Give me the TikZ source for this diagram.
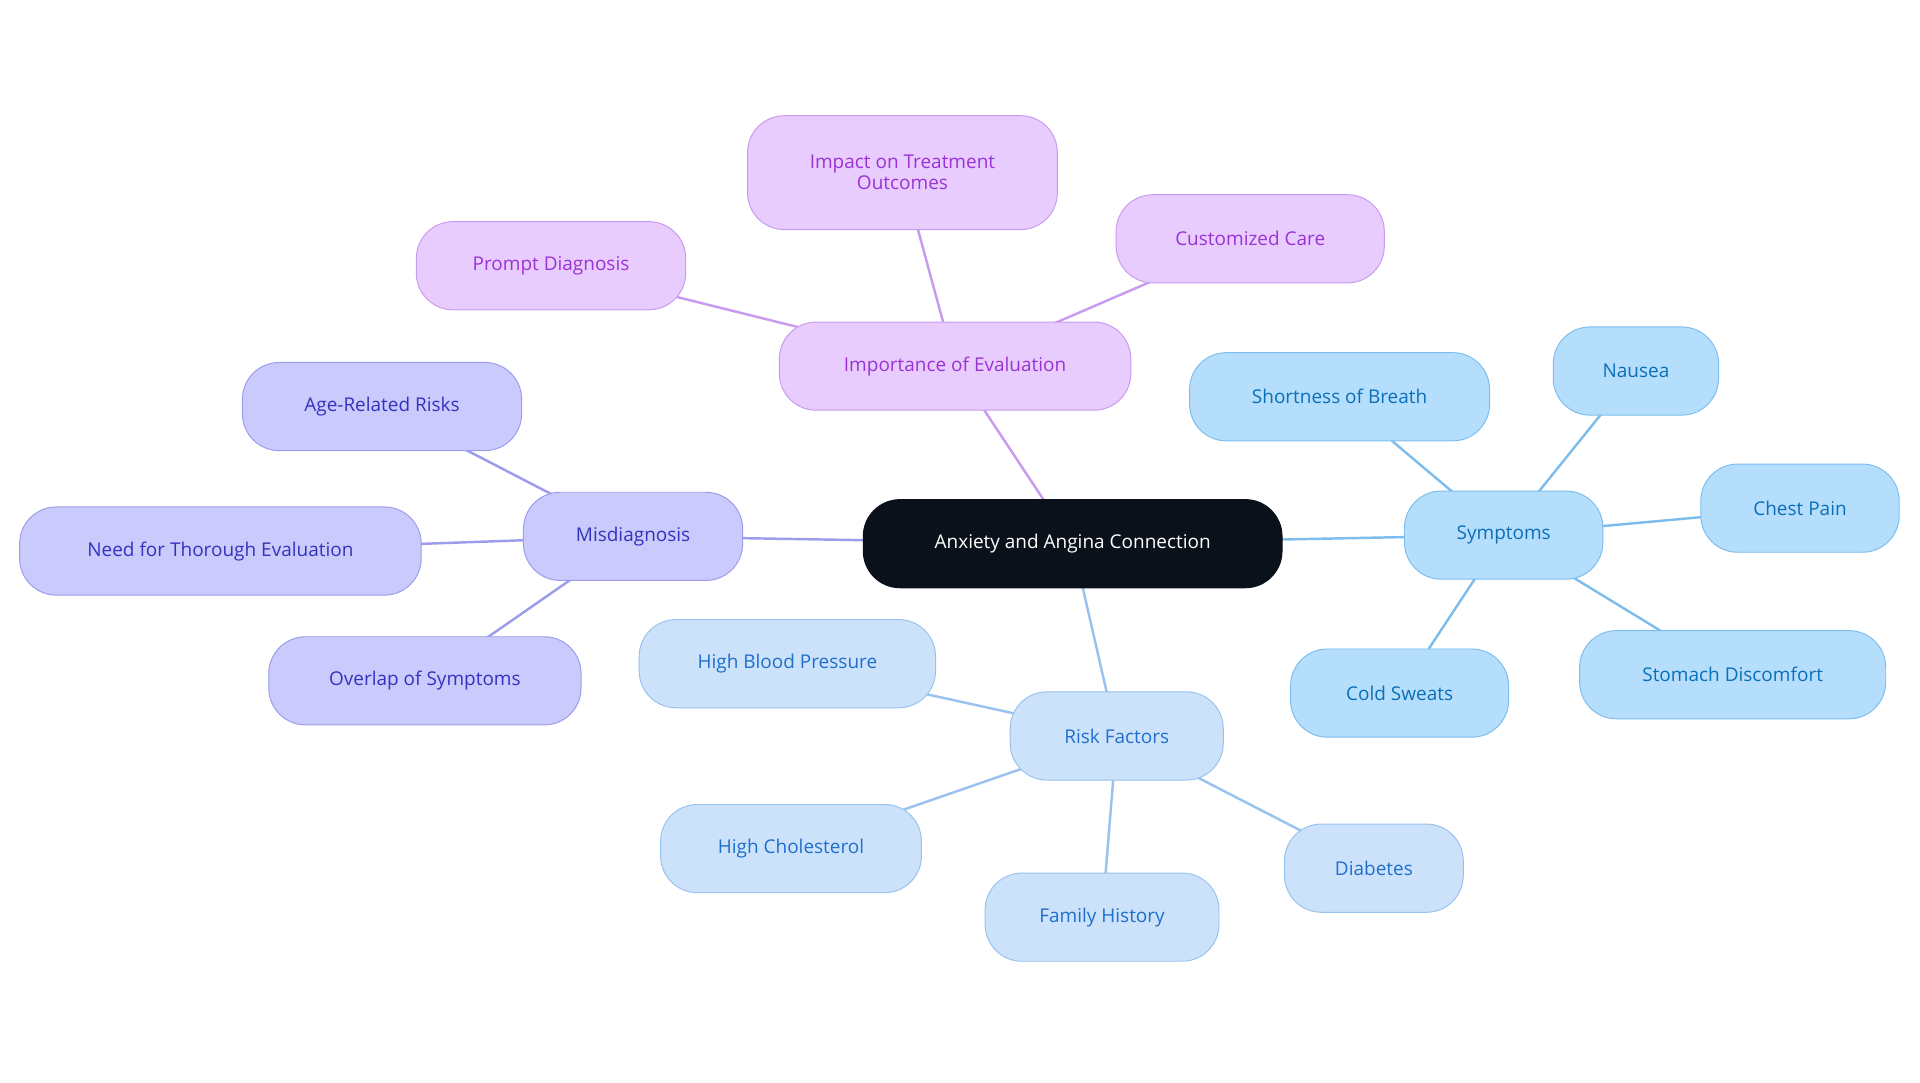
\documentclass[tikz,border=0pt]{standalone}
\usepackage{fontspec}
\setmainfont{Open Sans}
\usetikzlibrary{backgrounds}
\definecolor{pF}{HTML}{E8CCFD}\definecolor{pD}{HTML}{C99BF0}\definecolor{pT}{HTML}{9A33D6}
\definecolor{vF}{HTML}{CACAFC}\definecolor{vD}{HTML}{9C9CEC}\definecolor{vT}{HTML}{3333C0}
\definecolor{sF}{HTML}{B5DEFD}\definecolor{sD}{HTML}{7DBDEE}\definecolor{sT}{HTML}{0B6FB8}
\definecolor{rF}{HTML}{CCE2FB}\definecolor{rD}{HTML}{99C2EE}\definecolor{rT}{HTML}{1F6FCC}
\definecolor{cF}{HTML}{0B111B}
\begin{document}
\begin{tikzpicture}[x=1pt,y=-1pt,
 base/.style={rectangle,rounded corners=30pt,minimum height=72pt,inner sep=0pt,align=center,line width=0.8pt,font=\fontsize{15.5}{17}\selectfont},
 pn/.style={base,fill=pF,draw=pD,text=pT},
 vn/.style={base,fill=vF,draw=vD,text=vT},
 sn/.style={base,fill=sF,draw=sD,text=sT},
 rn/.style={base,fill=rF,draw=rD,text=rT},
 pe/.style={draw=pD,line width=2pt},
 ve/.style={draw=vD,line width=2pt},
 se/.style={draw=sD,line width=2pt},
 re/.style={draw=rD,line width=2pt}]
\useasboundingbox (0,0) rectangle (1568,884);
\node[base,fill=cF,draw=cF,text=white,minimum width=342pt] (c) at (876,444) {Anxiety and Angina Connection};
\node[pn,minimum width=287pt] (ie) at (780,299) {Importance of Evaluation};
\node[pn,minimum width=253pt,minimum height=93pt] (it) at (737,141) {Impact on Treatment\\Outcomes};
\node[pn,minimum width=220pt] (pd) at (450,217) {Prompt Diagnosis};
\node[pn,minimum width=219pt] (cc) at (1021,195) {Customized Care};
\node[vn,minimum width=179pt] (mi) at (517,438) {Misdiagnosis};
\node[vn,minimum width=228pt] (ar) at (312,332) {Age-Related Risks};
\node[vn,minimum width=328pt] (nt) at (180,450) {Need for Thorough Evaluation};
\node[vn,minimum width=255pt] (os) at (347,556) {Overlap of Symptoms};
\node[sn,minimum width=162pt] (sy) at (1228,437) {Symptoms};
\node[sn,minimum width=245pt] (sb) at (1094,324) {Shortness of Breath};
\node[sn,minimum width=135pt] (na) at (1336,303) {Nausea};
\node[sn,minimum width=162pt] (cp) at (1470,415) {Chest Pain};
\node[sn,minimum width=250pt] (sd) at (1415,551) {Stomach Discomfort};
\node[sn,minimum width=178pt] (cs) at (1143,566) {Cold Sweats};
\node[rn,minimum width=174pt] (rf) at (912,601) {Risk Factors};
\node[rn,minimum width=242pt] (hb) at (643,542) {High Blood Pressure};
\node[rn,minimum width=213pt] (hc) at (646,693) {High Cholesterol};
\node[rn,minimum width=191pt] (fh) at (900,749) {Family History};
\node[rn,minimum width=146pt] (di) at (1122,709) {Diabetes};
\begin{scope}[on background layer]
\draw[pe] (c.center)--(ie.center); \draw[pe] (ie.center)--(it.center);
\draw[pe] (ie.center)--(pd.center); \draw[pe] (ie.center)--(cc.center);
\draw[ve] (c.center)--(mi.center); \draw[ve] (mi.center)--(ar.center);
\draw[ve] (mi.center)--(nt.center); \draw[ve] (mi.center)--(os.center);
\draw[se] (c.center)--(sy.center);
\foreach \n in {sb,na,cp,sd,cs} \draw[se] (sy.center)--(\n.center);
\draw[re] (c.center)--(rf.center);
\foreach \n in {hb,hc,fh,di} \draw[re] (rf.center)--(\n.center);
\end{scope}
\end{tikzpicture}
\end{document}
